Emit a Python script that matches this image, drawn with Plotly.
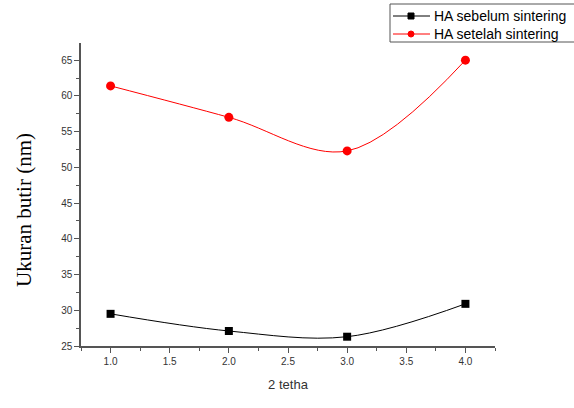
import plotly.graph_objects as go

x_vals = [1.0, 2.0, 3.0, 4.0]
sebelum = [29.5, 27.1, 26.3, 30.9]
setelah = [61.4, 57.0, 52.3, 65.0]
series_names = ["HA sebelum sintering", "HA setelah sintering"]
series_colors = ["black", "red"]
series_symbols = ["square", "circle"]

W, H = 574, 408
ML, MR, MT, MB = 81, 79, 43, 62
PW, PH = W - ML - MR, H - MT - MB


def px_x(px):
    return (px - ML) / PW


def px_y(py):
    return (H - MB - py) / PH


fig = go.Figure()
fig.add_trace(go.Scatter(
    x=x_vals, y=sebelum, name=series_names[0], mode="lines+markers", showlegend=False,
    line=dict(color=series_colors[0], width=1, shape="spline", smoothing=1.0),
    marker=dict(symbol=series_symbols[0], size=8, color=series_colors[0]),
))
fig.add_trace(go.Scatter(
    x=x_vals, y=setelah, name=series_names[1], mode="lines+markers", showlegend=False,
    line=dict(color=series_colors[1], width=1, shape="spline", smoothing=1.0),
    marker=dict(symbol=series_symbols[1], size=9, color=series_colors[1]),
))

# legend box drawn manually (clipped at right edge as in the original)
shapes = [dict(type="rect", xref="paper", yref="paper",
               x0=px_x(390), x1=px_x(580), y0=px_y(42), y1=px_y(4),
               line=dict(color="#555", width=1), fillcolor="white", layer="above")]
annotations = []
for i, (name, col, sym) in enumerate(zip(series_names, series_colors, series_symbols)):
    cy = 16 + 18 * i
    shapes.append(dict(type="line", xref="paper", yref="paper",
                       x0=px_x(393), x1=px_x(430), y0=px_y(cy), y1=px_y(cy),
                       line=dict(color=col, width=1), layer="above"))
    shapes.append(dict(type="rect" if sym == "square" else "circle", xref="paper", yref="paper",
                       x0=px_x(408), x1=px_x(414), y0=px_y(cy + 3), y1=px_y(cy - 3),
                       line=dict(color=col, width=1), fillcolor=col, layer="above"))
    annotations.append(dict(text=name, xref="paper", yref="paper", x=px_x(432), y=px_y(cy),
                            xanchor="left", yanchor="middle", showarrow=False,
                            font=dict(family="Arial", size=14, color="black")))

annotations.append(dict(text="Ukuran butir (nm)", xref="paper", yref="paper",
                        x=px_x(24), y=px_y(210), xanchor="center", yanchor="middle",
                        textangle=-90, showarrow=False,
                        font=dict(family="Liberation Serif, Times New Roman, serif", size=21, color="black")))

axis_common = dict(
    showline=True, linecolor="#555", linewidth=1.5, ticks="outside",
    ticklen=5, tickcolor="#555", showgrid=False, zeroline=False, mirror=False,
    tickfont=dict(family="Arial", size=10, color="#333"),
)
fig.update_xaxes(
    range=[0.75, 4.25], tick0=1.0, dtick=0.5, tickformat=".1f",
    minor=dict(ticks="outside", ticklen=3, dtick=0.25, tick0=0.75, tickcolor="#555"),
    title=dict(text="2 tetha", font=dict(family="Arial", size=13, color="#333"), standoff=14),
    **axis_common,
)
fig.update_yaxes(
    range=[25, 67.4], tick0=25, dtick=5,
    minor=dict(ticks="outside", ticklen=3, dtick=2.5, tick0=25, tickcolor="#555"),
    **axis_common,
)
fig.update_layout(
    width=W, height=H,
    margin=dict(l=ML, r=MR, t=MT, b=MB, autoexpand=False),
    plot_bgcolor="white", paper_bgcolor="white",
    showlegend=False,
    shapes=shapes,
    annotations=annotations,
)
fig.write_html("out.html")
